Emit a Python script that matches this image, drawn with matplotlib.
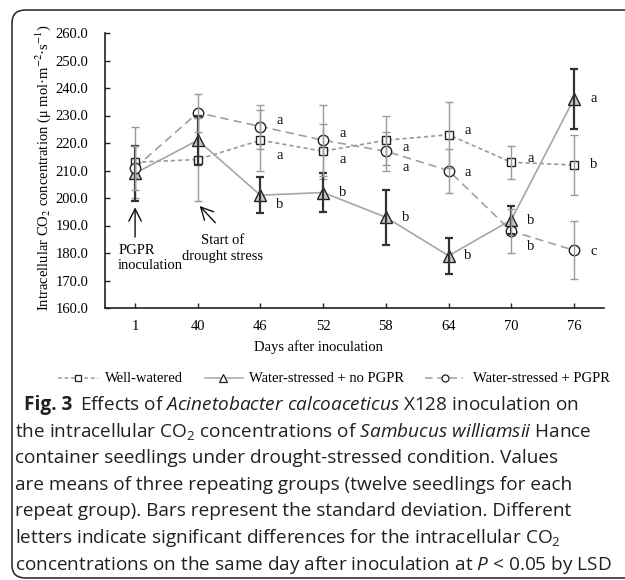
import matplotlib
matplotlib.use("Agg")
import matplotlib.pyplot as plt
from matplotlib.lines import Line2D
from matplotlib.patches import FancyBboxPatch
import numpy as np

# ---------------- data ----------------
days = ["1", "40", "46", "52", "58", "64", "70", "76"]
well_watered = [213, 214, 221, 217, 221, 223, 213, 212]
well_watered_sd = [13, 15, 11, 10, 9, 12, 6, 11]
stressed_no_pgpr = [209, 221, 201, 202, 193, 179, 192, 236]
stressed_no_pgpr_sd = [10, 9, 6.5, 7, 10, 6.5, 5, 11]
stressed_pgpr = [211, 231, 226, 221, 217, 210, 188, 181]
stressed_pgpr_sd = [8, 7, 8, 13, 7, 8, 8, 10.5]

letters_ww = ["", "", "a", "a", "a", "a", "a", "b"]
letters_ns = ["", "", "b", "b", "b", "b", "b", "a"]
letters_pg = ["", "", "a", "a", "a", "a", "b", "c"]

series_names = ["Well-watered", "Water-stressed + no PGPR", "Water-stressed + PGPR"]
yticks = [160, 170, 180, 190, 200, 210, 220, 230, 240, 250, 260]

# letter vertical nudges (annotation layout)
nudge_ww = [0, 0, -5.5, -3, -2.5, 1.4, 1.5, 0]
nudge_ns = [0, 0, -3.2, 0, 0, 0, 0, 0]
nudge_pg = [0, 0, 2, 2.6, -6, -0.6, -5.5, -0.5]

# ---------------- style ----------------
W, H = 625, 580
CAPFONT = "Open Sans"
plt.rcParams["mathtext.fontset"] = "custom"
plt.rcParams["mathtext.rm"] = CAPFONT
plt.rcParams["mathtext.it"] = CAPFONT + ":italic"
plt.rcParams["mathtext.bf"] = CAPFONT + ":bold"
SERIF = "Liberation Serif"
FS = 10.5

def P(x, y):
    return x / W, 1 - y / H

fig = plt.figure(figsize=(W / 100, H / 100), dpi=100)
fig.patch.set_facecolor("white")

# rounded frame
frame = FancyBboxPatch(P(12, 578), (660 - 12) / W, (578 - 10) / H,
                       boxstyle="round,pad=0,rounding_size=0.022",
                       transform=fig.transFigure, facecolor="none",
                       edgecolor="#222222", linewidth=1.1, zorder=0)
fig.add_artist(frame)

left, right, top, bottom = 105, 604, 33, 308
ax = fig.add_axes([left / W, 1 - bottom / H, (right - left) / W, (bottom - top) / H])
x = np.arange(len(days))

light = "#9a9a9a"
dark = "#333333"
line_gray = "#a6a6a6"

styles = [
    dict(vals=well_watered, sd=well_watered_sd, ls=(0, (2.5, 1.8)), marker="s", ms=6.2,
         mfc="white", ecol=light, elw=1.0, lcol="#9a9a9a"),
    dict(vals=stressed_no_pgpr, sd=stressed_no_pgpr_sd, ls="-", marker="^", ms=8.3,
         mfc="#c8c8c8", ecol=dark, elw=1.6, lcol=line_gray),
    dict(vals=stressed_pgpr, sd=stressed_pgpr_sd, ls=(0, (5, 3)), marker="o", ms=7.5,
         mfc="white", ecol=light, elw=1.0, lcol="#a0a0a0"),
]

for st in styles:
    ax.plot(x, st["vals"], linestyle=st["ls"], color=st["lcol"], lw=1.2, zorder=2)
for st in styles:
    ax.plot(x, st["vals"], linestyle="none", marker=st["marker"], ms=st["ms"],
            mfc=st["mfc"], mec="#222222", mew=1.0, zorder=3)
for st in styles:
    ax.errorbar(x, st["vals"], yerr=st["sd"], fmt="none", ecolor=st["ecol"],
                elinewidth=st["elw"], capsize=3.2, capthick=st["elw"], zorder=4)

for vals, labs, nud in [(well_watered, letters_ww, nudge_ww),
                        (stressed_no_pgpr, letters_ns, nudge_ns),
                        (stressed_pgpr, letters_pg, nudge_pg)]:
    for i, (v, l, n) in enumerate(zip(vals, labs, nud)):
        if l:
            ax.text(i + 0.31, v + n, l, ha="center", va="center",
                    fontsize=FS, family=SERIF, color="#111111", zorder=5)

ax.set_xlim(-0.48, 7.48)
ax.set_ylim(160, 260)
ax.set_xticks(x)
ax.set_xticklabels(days, family=SERIF, fontsize=FS)
ax.set_yticks(yticks)
ax.set_yticklabels([f"{t:.1f}" for t in yticks], family=SERIF, fontsize=FS)
ax.tick_params(axis="both", direction="in", length=3.5, width=1.0, color="#222222", pad=9)
ax.tick_params(axis="y", pad=12)
for s in ["top", "right"]:
    ax.spines[s].set_visible(False)
for s in ["left", "bottom"]:
    ax.spines[s].set_linewidth(1.2)
    ax.spines[s].set_color("#222222")

# annotations
arrow_kw = dict(arrowstyle="->,head_length=0.55,head_width=0.28", color="#111111",
                lw=1.0, mutation_scale=16, shrinkA=0, shrinkB=0)
ax.annotate("", xy=(0, 196.6), xytext=(0, 185.8), arrowprops=arrow_kw)
ax.annotate("", xy=(1.03, 197.1), xytext=(1.28, 191.0), arrowprops=arrow_kw)
ax.text(-0.27, 180.8, "PGPR", ha="left", va="center", fontsize=FS, family=SERIF)
ax.text(-0.27, 175.3, "inoculation", ha="left", va="center", fontsize=FS, family=SERIF)
ax.text(1.39, 184.7, "Start of", ha="center", va="center", fontsize=FS, family=SERIF)
ax.text(1.39, 178.9, "drought stress", ha="center", va="center", fontsize=FS, family=SERIF)

# axis labels
fig.text(*P(43, 168), "Intracellular CO$_2$ concentration (\u03bc mol\u00b7m$^{-2}$\u00b7s$^{-1}$)",
         rotation=90, ha="center", va="center", fontsize=FS, family=SERIF,
         math_fontfamily="stix")
fig.text(*P(318, 347), "Days after inoculation", ha="center", va="center",
         fontsize=FS, family=SERIF)

# legend (manual)
leg_y = 378
leg = [(58, 98, 78, 105), (205, 243, 223, 249), (425, 463, 445, 473)]
leg_ms = [4.2, 5.2, 5.0]
for (x0, x1, xm, xt), st, name, ms in zip(leg, styles, series_names, leg_ms):
    a, b = P(x0, leg_y), P(x1, leg_y)
    fig.add_artist(Line2D([a[0], b[0]], [a[1], b[1]], transform=fig.transFigure,
                          linestyle=st["ls"], color=st["lcol"], lw=1.1))
    m = P(xm, leg_y)
    fig.add_artist(Line2D([m[0]], [m[1]], transform=fig.transFigure, linestyle="none",
                          marker=st["marker"], ms=ms, mfc="white", mec="#222222", mew=0.9))
    fig.text(*P(xt, leg_y), name, ha="left", va="center", fontsize=FS, family=SERIF)

# caption
fig_label = "Fig. 3"
cap_lines = [
    r"Effects of $\mathit{Acinetobacter\ calcoaceticus}$ X128 inoculation on",
    r"the intracellular CO$_2$ concentrations of $\mathit{Sambucus\ williamsii}$ Hance",
    "container seedlings under drought-stressed condition. Values",
    "are means of three repeating groups (twelve seedlings for each",
    "repeat group). Bars represent the standard deviation. Different",
    r"letters indicate significant differences for the intracellular CO$_2$",
    r"concentrations on the same day after inoculation at $\mathit{P}$ < 0.05 by LSD",
]
cap_color = "#231f20"
base0, step = 410, 26.6
label_t = fig.text(*P(24, base0), fig_label, ha="left", va="baseline", fontsize=13,
                   family=CAPFONT, fontweight="bold", color=cap_color)
cap_texts = []
for i, line in enumerate(cap_lines):
    t = fig.text(*P(15, base0 + step * i), line, ha="left", va="baseline",
                 fontsize=13, family=CAPFONT, color=cap_color)
    cap_texts.append(t)

fig.canvas.draw()
r = fig.canvas.get_renderer()
wlast = cap_texts[-1].get_window_extent(r).width
scale = 595 / wlast
for t in cap_texts + [label_t]:
    t.set_fontsize(13 * scale)
fig.canvas.draw()
r = fig.canvas.get_renderer()
lab_right = label_t.get_window_extent(r).x1
cap_texts[0].set_position(P(lab_right + 8, base0))

fig.savefig("out.png", dpi=100, facecolor="white")
